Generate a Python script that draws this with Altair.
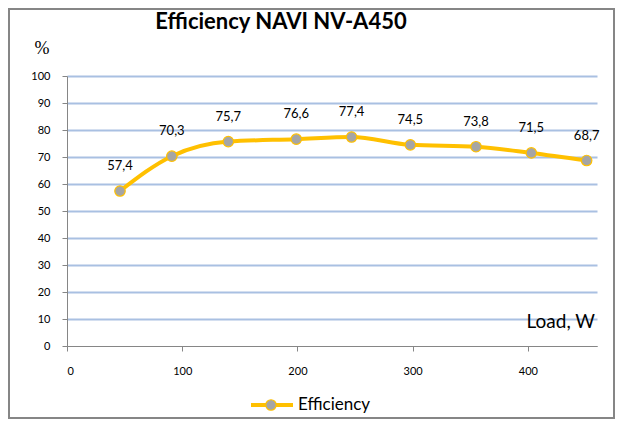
import altair as alt
import pandas as pd

# ---- data ----
load = [46, 91, 140, 199, 247, 298, 355, 403, 451]
eff = [57.4, 70.3, 75.7, 76.6, 77.4, 74.5, 73.8, 71.5, 68.7]
labels = ["57,4", "70,3", "75,7", "76,6", "77,4", "74,5", "73,8", "71,5", "68,7"]
x_ticks = [0, 100, 200, 300, 400]
y_ticks = [0, 10, 20, 30, 40, 50, 60, 70, 80, 90, 100]
title_text = "Efficiency NAVI NV-A450"
y_unit = "%"
x_title = "Load, W"
series_name = "Efficiency"

df = pd.DataFrame({"load": load, "eff": eff, "label": labels})

FONT = "Lato"
LINE = "#FFC000"
PT = "#A5A5A5"
AXIS = "#868686"
GRID = "#A9C0E2"

xs = alt.Scale(domain=[0, 460], nice=False, zero=False)
ys = alt.Scale(domain=[0, 100], nice=False)

x_enc = alt.X(
    "load:Q", scale=xs,
    axis=alt.Axis(values=x_ticks, title=None, grid=False, domainColor=AXIS,
                  tickColor=AXIS, tickSize=5, labelPadding=14, labelFont=FONT,
                  labelFontSize=11, labelColor="black"),
)
y_enc = alt.Y(
    "eff:Q", scale=ys,
    axis=alt.Axis(values=y_ticks, title=None, grid=True, labelOverlap=False,
                  gridColor=alt.condition("datum.value === 0", alt.value(AXIS), alt.value(GRID)),
                  gridWidth=alt.condition("datum.value === 0", alt.value(1), alt.value(2)),
                  domainColor=AXIS, tickColor=AXIS, tickSize=5, labelPadding=12,
                  labelFont=FONT, labelFontSize=11, labelColor="black"),
)

base = alt.Chart(df)

line = base.mark_line(color=LINE, strokeWidth=4, interpolate="monotone").encode(x=x_enc, y=y_enc)
pts = base.mark_point(filled=True, fill=PT, stroke=LINE, strokeWidth=1.2, size=110, opacity=1).encode(
    x=x_enc, y=y_enc)
lbl = base.mark_text(dy=-25, font=FONT, fontSize=13, color="black").encode(
    x=x_enc, y=y_enc, text="label:N")

one = pd.DataFrame({"a": [0]})
ann = alt.Chart(one)

title = ann.mark_text(text=title_text, font=FONT, fontSize=22, fontWeight="bold",
                      color="black", align="center", baseline="middle").encode(
    x=alt.value(214), y=alt.value(-54))
unit = ann.mark_text(text=y_unit, font="Liberation Serif", fontSize=18, color="black",
                     align="center", baseline="middle").encode(x=alt.value(-25), y=alt.value(-27))
xt = ann.mark_text(text=x_title, font=FONT, fontSize=19, color="black",
                   align="right", baseline="middle").encode(x=alt.value(528), y=alt.value(246))

leg_line = ann.mark_rule(color=LINE, strokeWidth=4).encode(
    x=alt.value(184), x2=alt.value(226), y=alt.value(329))
leg_pt = ann.mark_point(filled=True, fill=PT, stroke=LINE, strokeWidth=1.2, size=110, opacity=1).encode(
    x=alt.value(204), y=alt.value(329))
leg_txt = ann.mark_text(text=series_name, font=FONT, fontSize=17, color="black",
                        align="left", baseline="middle").encode(x=alt.value(231), y=alt.value(329))

border = ann.mark_rect(fillOpacity=0, stroke=AXIS, strokeWidth=2).encode(
    x=alt.value(-58), x2=alt.value(547), y=alt.value(-67), y2=alt.value(342))

chart = alt.layer(border, line, pts, lbl, title, unit, xt, leg_line, leg_pt, leg_txt).properties(
    width=530, height=270,
    autosize=alt.AutoSizeParams(type="none"),
    padding={"left": 59, "top": 68, "right": 18, "bottom": 73},
).configure_view(stroke=None)

chart.save("out.html", embed_options={"renderer": "svg", "actions": False})
